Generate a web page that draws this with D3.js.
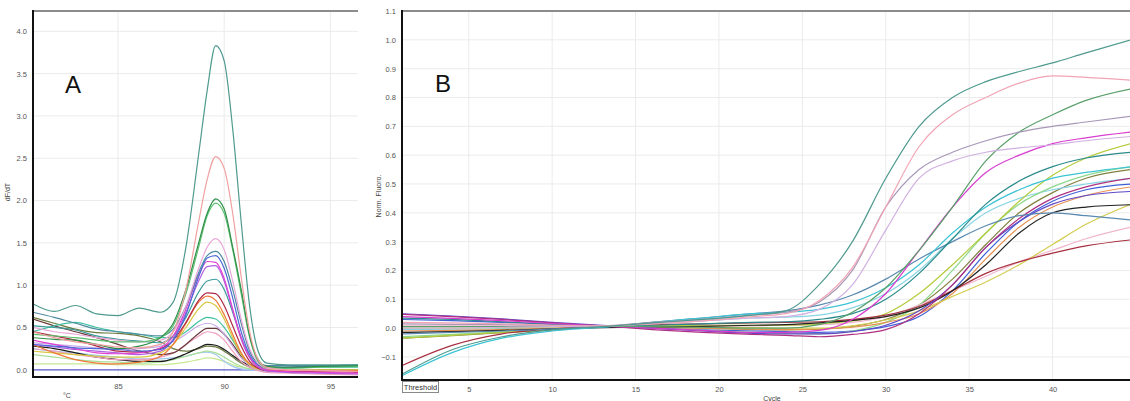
<!DOCTYPE html>
<html>
<head>
<meta charset="utf-8">
<script src="https://cdn.jsdelivr.net/npm/d3@7"></script>
<style>
  html, body { margin: 0; padding: 0; background: #fff; }
  svg { display: block; }
  .tick text { font-family: "Liberation Sans", Arial, sans-serif; }
</style>
</head>
<body>
<svg id="chart" width="1130" height="401"></svg>
<script>
// ---------- Panel A: melt curves (dF/dT vs temperature) ----------
const meltTemps = [81, 82, 83, 84, 85, 86, 87, 87.6, 88.2, 88.8, 89.2, 89.6, 90.0, 90.4, 90.8, 91.2, 91.6, 92, 93, 94.5, 96.3];
const meltValues = [
  [0.78, 0.69, 0.76, 0.66, 0.64, 0.73, 0.68, 0.80, 1.45, 2.55, 3.30, 3.83, 3.65, 2.85, 1.75, 0.75, 0.22, 0.08, 0.06, 0.06, 0.06],
  [0.45, 0.38, 0.33, 0.30, 0.27, 0.26, 0.30, 0.45, 0.95, 1.75, 2.25, 2.52, 2.38, 1.85, 1.10, 0.45, 0.12, 0.03, 0.00, -0.01, -0.02],
  [0.38, 0.36, 0.35, 0.30, 0.25, 0.28, 0.38, 0.55, 0.95, 1.50, 1.85, 2.02, 1.90, 1.45, 0.95, 0.40, 0.12, 0.04, 0.03, 0.04, 0.05],
  [0.42, 0.40, 0.38, 0.35, 0.33, 0.33, 0.38, 0.52, 0.90, 1.45, 1.82, 1.97, 1.85, 1.42, 0.90, 0.38, 0.10, 0.03, 0.02, 0.03, 0.04],
  [0.50, 0.45, 0.42, 0.38, 0.35, 0.33, 0.35, 0.45, 0.75, 1.20, 1.45, 1.55, 1.42, 1.05, 0.60, 0.25, 0.08, 0.02, 0.00, -0.01, -0.02],
  [0.68, 0.62, 0.55, 0.48, 0.45, 0.42, 0.40, 0.48, 0.75, 1.15, 1.35, 1.40, 1.28, 0.95, 0.55, 0.22, 0.08, 0.05, 0.05, 0.05, 0.06],
  [0.30, 0.28, 0.26, 0.25, 0.24, 0.22, 0.24, 0.35, 0.65, 1.10, 1.32, 1.35, 1.20, 0.85, 0.45, 0.18, 0.06, 0.03, 0.03, 0.04, 0.05],
  [0.35, 0.30, 0.25, 0.20, 0.19, 0.20, 0.26, 0.40, 0.72, 1.12, 1.28, 1.27, 1.08, 0.72, 0.38, 0.15, 0.04, 0.00, -0.02, -0.03, -0.04],
  [0.30, 0.27, 0.24, 0.22, 0.20, 0.18, 0.22, 0.36, 0.68, 1.05, 1.22, 1.23, 1.05, 0.70, 0.36, 0.14, 0.03, -0.01, -0.03, -0.04, -0.05],
  [0.52, 0.50, 0.47, 0.40, 0.36, 0.34, 0.32, 0.40, 0.62, 0.92, 1.05, 1.07, 0.95, 0.68, 0.38, 0.15, 0.05, 0.03, 0.03, 0.04, 0.05],
  [0.45, 0.40, 0.35, 0.28, 0.22, 0.21, 0.25, 0.35, 0.56, 0.82, 0.91, 0.90, 0.76, 0.52, 0.28, 0.10, 0.02, -0.01, -0.02, -0.02, -0.03],
  [0.30, 0.20, 0.12, 0.08, 0.07, 0.09, 0.16, 0.30, 0.55, 0.80, 0.87, 0.82, 0.65, 0.42, 0.20, 0.07, 0.02, 0.00, -0.01, -0.01, -0.01],
  [0.22, 0.20, 0.18, 0.16, 0.15, 0.15, 0.20, 0.30, 0.50, 0.72, 0.80, 0.76, 0.60, 0.38, 0.18, 0.06, 0.01, 0.00, 0.00, 0.00, 0.00],
  [0.45, 0.52, 0.56, 0.50, 0.45, 0.42, 0.38, 0.38, 0.45, 0.57, 0.62, 0.60, 0.50, 0.35, 0.18, 0.07, 0.02, 0.01, 0.02, 0.03, 0.03],
  [0.32, 0.30, 0.28, 0.26, 0.24, 0.25, 0.28, 0.33, 0.42, 0.52, 0.55, 0.52, 0.42, 0.28, 0.14, 0.05, 0.00, -0.02, -0.03, -0.04, -0.05],
  [0.60, 0.52, 0.45, 0.38, 0.30, 0.22, 0.18, 0.20, 0.30, 0.43, 0.49, 0.49, 0.42, 0.30, 0.16, 0.07, 0.02, 0.00, -0.01, -0.01, -0.01],
  [0.25, 0.22, 0.18, 0.15, 0.12, 0.12, 0.15, 0.20, 0.30, 0.40, 0.45, 0.43, 0.35, 0.22, 0.10, 0.03, -0.01, -0.03, -0.04, -0.05, -0.06],
  [0.28, 0.25, 0.20, 0.15, 0.12, 0.10, 0.10, 0.13, 0.19, 0.26, 0.30, 0.29, 0.24, 0.17, 0.10, 0.05, 0.02, 0.02, 0.03, 0.04, 0.05],
  [0.62, 0.55, 0.48, 0.44, 0.43, 0.40, 0.33, 0.25, 0.22, 0.25, 0.28, 0.27, 0.22, 0.15, 0.08, 0.03, 0.00, -0.01, -0.01, 0.00, 0.00],
  [0.18, 0.15, 0.12, 0.10, 0.09, 0.08, 0.09, 0.12, 0.16, 0.20, 0.22, 0.20, 0.15, 0.09, 0.04, 0.01, 0.00, 0.00, 0.00, 0.00, 0.00],
  [0.25, 0.22, 0.20, 0.17, 0.15, 0.13, 0.13, 0.14, 0.16, 0.20, 0.21, 0.18, 0.10, 0.04, 0.01, 0.00, 0.00, 0.00, 0.00, 0.00, 0.00],
  [0.07, 0.07, 0.07, 0.07, 0.06, 0.06, 0.06, 0.07, 0.09, 0.12, 0.14, 0.13, 0.10, 0.06, 0.03, 0.01, 0.00, 0.00, 0.00, 0.00, 0.00]
];
const meltColors = ["#4e9a8e", "#f0a0a0", "#2f8f4a", "#5cc070", "#e8a8d8", "#4f8aa0", "#4a6ad8", "#e040d0",
                    "#b060e0", "#3a9a9a", "#b02848", "#f07838", "#d8c840", "#40c0a0", "#c8a8e8", "#6a3a3a",
                    "#f0a0c0", "#1a1a1a", "#6a7a40", "#a8e098", "#a0c8f0", "#c8e890"];
const meltYTicks = [0.0, 0.5, 1.0, 1.5, 2.0, 2.5, 3.0, 3.5, 4.0];
const meltXTicks = [85, 90, 95];

// ---------- Panel B: amplification curves (normalised fluorescence vs cycle) ----------
const cycles = [1, 4, 7, 10, 13, 16, 19, 22, 24, 26, 28, 30, 32, 34, 36, 38, 40, 42, 44.7];
const ampValues = [
  [-0.16, -0.075, -0.03, -0.006, 0.005, 0.018, 0.03, 0.045, 0.06, 0.15, 0.30, 0.52, 0.70, 0.80, 0.855, 0.89, 0.92, 0.955, 1.0],
  [0.02, 0.018, 0.015, 0.01, 0.008, 0.015, 0.025, 0.04, 0.05, 0.095, 0.21, 0.42, 0.63, 0.74, 0.80, 0.85, 0.875, 0.87, 0.86],
  [0.015, 0.013, 0.012, 0.01, 0.008, 0.02, 0.03, 0.045, 0.055, 0.09, 0.20, 0.42, 0.55, 0.61, 0.65, 0.68, 0.70, 0.715, 0.735],
  [0.0, 0.0, 0.003, 0.005, 0.006, 0.015, 0.025, 0.035, 0.04, 0.065, 0.15, 0.34, 0.52, 0.58, 0.61, 0.625, 0.636, 0.65, 0.665],
  [0.005, 0.005, 0.005, 0.006, 0.006, 0.005, 0.003, 0.0, 0.0, 0.012, 0.055, 0.14, 0.27, 0.42, 0.58, 0.68, 0.74, 0.79, 0.83],
  [0.04, 0.034, 0.026, 0.016, 0.008, 0.0, -0.008, -0.015, -0.015, -0.008, 0.03, 0.12, 0.27, 0.42, 0.54, 0.60, 0.64, 0.66, 0.68],
  [0.035, 0.03, 0.022, 0.014, 0.008, 0.01, 0.015, 0.02, 0.022, 0.03, 0.05, 0.10, 0.19, 0.31, 0.43, 0.51, 0.56, 0.59, 0.61],
  [-0.165, -0.085, -0.035, -0.01, 0.003, 0.02, 0.035, 0.05, 0.055, 0.065, 0.09, 0.14, 0.22, 0.33, 0.42, 0.48, 0.52, 0.54, 0.56],
  [-0.02, -0.015, -0.01, -0.003, 0.004, 0.02, 0.035, 0.05, 0.06, 0.08, 0.115, 0.17, 0.24, 0.30, 0.355, 0.39, 0.40, 0.39, 0.375],
  [0.048, 0.04, 0.03, 0.018, 0.008, -0.005, -0.015, -0.022, -0.025, -0.03, -0.022, -0.005, 0.05, 0.15, 0.28, 0.38, 0.45, 0.49, 0.52],
  [0.05, 0.042, 0.032, 0.02, 0.01, 0.0, -0.01, -0.018, -0.02, -0.02, -0.012, 0.01, 0.06, 0.15, 0.28, 0.37, 0.43, 0.46, 0.474],
  [-0.015, -0.012, -0.008, -0.003, 0.002, 0.004, 0.006, 0.01, 0.012, 0.018, 0.027, 0.04, 0.07, 0.13, 0.22, 0.33, 0.40, 0.42, 0.428],
  [-0.13, -0.06, -0.02, -0.003, 0.006, 0.012, 0.015, 0.018, 0.02, 0.022, 0.03, 0.045, 0.075, 0.13, 0.19, 0.23, 0.26, 0.285, 0.306],
  [0.0, 0.0, 0.002, 0.004, 0.006, 0.005, 0.003, 0.002, 0.0, 0.0, 0.008, 0.028, 0.06, 0.11, 0.16, 0.22, 0.29, 0.36, 0.43],
  [-0.035, -0.025, -0.015, -0.005, 0.004, 0.008, 0.01, 0.01, 0.01, 0.015, 0.025, 0.05, 0.12, 0.22, 0.33, 0.44, 0.53, 0.59, 0.64],
  [0.01, 0.01, 0.01, 0.008, 0.006, 0.006, 0.006, 0.008, 0.01, 0.012, 0.02, 0.04, 0.08, 0.13, 0.18, 0.23, 0.27, 0.31, 0.35],
  [-0.01, -0.008, -0.005, 0.0, 0.004, 0.003, 0.0, -0.004, -0.005, -0.004, 0.003, 0.02, 0.05, 0.12, 0.24, 0.35, 0.42, 0.46, 0.49],
  [-0.03, -0.022, -0.013, -0.005, 0.003, 0.0, -0.008, -0.015, -0.018, -0.02, -0.01, 0.02, 0.08, 0.20, 0.33, 0.43, 0.49, 0.53, 0.56],
  [0.03, 0.026, 0.02, 0.013, 0.007, 0.0, -0.006, -0.01, -0.012, -0.015, -0.01, 0.005, 0.04, 0.13, 0.26, 0.37, 0.44, 0.48, 0.50],
  [-0.005, -0.004, -0.002, 0.0, 0.004, 0.015, 0.025, 0.035, 0.038, 0.045, 0.07, 0.12, 0.20, 0.31, 0.40, 0.45, 0.48, 0.50, 0.52],
  [-0.035, -0.026, -0.016, -0.006, 0.003, 0.003, 0.0, -0.005, -0.006, -0.004, 0.006, 0.03, 0.08, 0.17, 0.29, 0.40, 0.47, 0.52, 0.55]
];
const ampColors = ["#4e9a8e", "#f2a4b4", "#a898b8", "#d0b0e0", "#5aa06a", "#d83cd0", "#2a8a8a", "#3cc4d4",
                   "#5a8ab0", "#b03080", "#6048c8", "#222222", "#a83040", "#d4cc50", "#b4cc3c", "#f0b4cc",
                   "#e89050", "#8cd88c", "#4060d8", "#88d4e4", "#808040"];
const ampYTicks = [-0.1, 0.0, 0.1, 0.2, 0.3, 0.4, 0.5, 0.6, 0.7, 0.8, 0.9, 1.0, 1.1];
const ampXTicks = [5, 10, 15, 20, 25, 30, 35, 40, 45];

const svg = d3.select("#chart");
const FONT = "'Liberation Sans', Arial, sans-serif";

function drawPanel(cfg) {
  const { x, y, xTicks, yTicks, yFmt, id } = cfg;
  const [x0, x1] = x.range();
  const [yB, yT] = y.range();
  const g = svg.append("g");

  // grid
  g.append("g").selectAll("line.h").data(yTicks).join("line")
    .attr("x1", x0).attr("x2", x1)
    .attr("y1", d => y(d)).attr("y2", d => y(d))
    .attr("stroke", "#ebebeb").attr("stroke-width", 1);
  g.append("g").selectAll("line.v").data(xTicks).join("line")
    .attr("x1", d => x(d)).attr("x2", d => x(d))
    .attr("y1", yT).attr("y2", yB)
    .attr("stroke", "#ebebeb").attr("stroke-width", 1);

  // axes (labels only; custom frame drawn below)
  const yAxis = d3.axisLeft(y).tickValues(yTicks).tickFormat(yFmt).tickSize(0).tickPadding(6);
  const yg = g.append("g").attr("transform", `translate(${x0},0)`).call(yAxis);
  yg.select(".domain").remove();
  yg.selectAll("text").attr("fill", "#555").attr("font-size", 7.5);

  const xAxis = d3.axisBottom(x).tickValues(xTicks).tickFormat(d3.format("d")).tickSize(0).tickPadding(7);
  const xg = g.append("g").attr("transform", `translate(0,${yB})`).call(xAxis);
  xg.select(".domain").remove();
  xg.selectAll("text").attr("fill", "#555").attr("font-size", 7.5);

  // clip for curves
  svg.append("clipPath").attr("id", id).append("rect")
    .attr("x", x0 + 1).attr("y", yT).attr("width", x1 - x0).attr("height", yB - yT);
  const plot = g.append("g").attr("clip-path", `url(#${id})`);

  // frame: gray top, black left and bottom
  g.append("line").attr("x1", x0).attr("x2", x1).attr("y1", yT).attr("y2", yT)
    .attr("stroke", "#8c8c8c").attr("stroke-width", 2);
  g.append("line").attr("x1", x0).attr("x2", x0).attr("y1", yT - 1).attr("y2", yB + 1)
    .attr("stroke", "#111").attr("stroke-width", 2);
  g.append("line").attr("x1", x0).attr("x2", x1).attr("y1", yB).attr("y2", yB)
    .attr("stroke", "#111").attr("stroke-width", 2);
  return { g, plot };
}

// ----- Panel A -----
const xA = d3.scaleLinear().domain([81, 96.3]).range([33, 358]);
const yA = d3.scaleLinear().domain([-0.085, 4.24]).range([377, 11]);
const pA = drawPanel({ x: xA, y: yA, xTicks: meltXTicks, yTicks: meltYTicks, yFmt: d3.format(".1f"), id: "clipA" });

pA.plot.append("line")
  .attr("x1", xA(81)).attr("x2", xA(96.3)).attr("y1", yA(0)).attr("y2", yA(0))
  .attr("stroke", "#5a5ad0").attr("stroke-width", 1.3);

const lineA = d3.line().x((d, i) => xA(meltTemps[i])).y(d => yA(d)).curve(d3.curveMonotoneX);
const orderA = d3.range(meltValues.length).reverse();
pA.plot.selectAll("path.melt").data(orderA).join("path")
  .attr("class", "melt")
  .attr("d", i => lineA(meltValues[i]))
  .attr("fill", "none")
  .attr("stroke", i => meltColors[i])
  .attr("stroke-width", 1.2);

svg.append("text").attr("x", 8).attr("y", 192).attr("transform", "rotate(-90,8,192)")
  .attr("text-anchor", "middle").attr("dominant-baseline", "middle")
  .attr("font-family", FONT).attr("font-size", 7).attr("fill", "#444").text("dF/dT");
svg.append("text").attr("x", 67).attr("y", 398).attr("text-anchor", "middle")
  .attr("font-family", FONT).attr("font-size", 7).attr("fill", "#444").text("°C");
svg.append("text").attr("x", 73).attr("y", 93).attr("text-anchor", "middle")
  .attr("font-family", FONT).attr("font-size", 24).attr("fill", "#111").text("A");

// ----- Panel B -----
const xB = d3.scaleLinear().domain([1, 45]).range([402, 1136]);
const yB = d3.scaleLinear().domain([-0.18, 1.1]).range([380, 11]);
const pB = drawPanel({ x: xB, y: yB, xTicks: ampXTicks, yTicks: ampYTicks, yFmt: d3.format(".1f"), id: "clipB" });

const lineB = d3.line().x((d, i) => xB(cycles[i])).y(d => yB(d)).curve(d3.curveMonotoneX);
const orderB = d3.range(ampValues.length).reverse();
pB.plot.selectAll("path.amp").data(orderB).join("path")
  .attr("class", "amp")
  .attr("d", i => lineB(ampValues[i]))
  .attr("fill", "none")
  .attr("stroke", i => ampColors[i])
  .attr("stroke-width", 1.2);

// threshold label box
const thr = svg.append("g");
thr.append("rect").attr("x", 402.5).attr("y", 381.5).attr("width", 36).attr("height", 11)
  .attr("fill", "#fff").attr("stroke", "#8a8a8a").attr("stroke-width", 1);
thr.append("text").attr("x", 420.5).attr("y", 390).attr("text-anchor", "middle")
  .attr("font-family", FONT).attr("font-size", 7.5).attr("fill", "#333").text("Threshold");

svg.append("text").attr("x", 379).attr("y", 196).attr("transform", "rotate(-90,379,196)")
  .attr("text-anchor", "middle").attr("dominant-baseline", "middle")
  .attr("font-family", FONT).attr("font-size", 7).attr("fill", "#444").text("Norm. Fluoro.");
svg.append("text").attr("x", 772).attr("y", 401).attr("text-anchor", "middle")
  .attr("font-family", FONT).attr("font-size", 7).attr("fill", "#444").text("Cycle");
svg.append("text").attr("x", 443).attr("y", 92).attr("text-anchor", "middle")
  .attr("font-family", FONT).attr("font-size", 24).attr("fill", "#111").text("B");
</script>
</body>
</html>
